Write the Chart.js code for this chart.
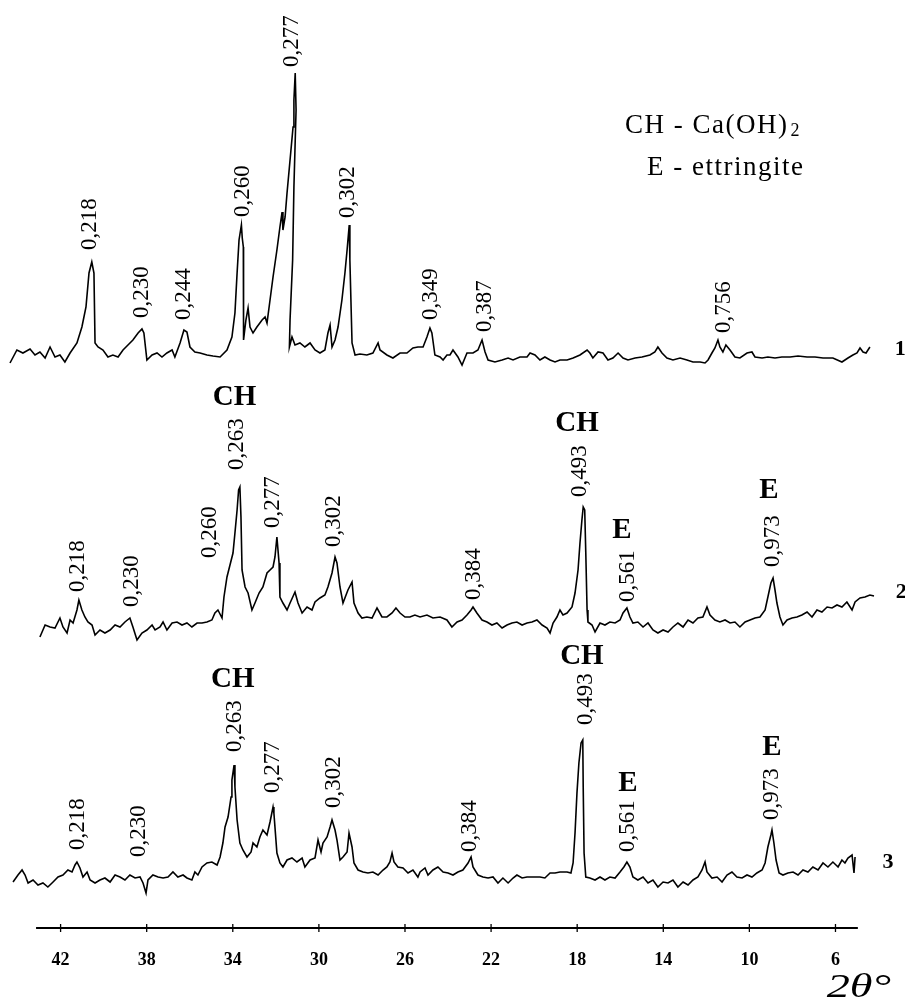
<!DOCTYPE html>
<html>
<head>
<meta charset="utf-8">
<title>XRD patterns 1-3</title>
<script src="https://cdn.jsdelivr.net/npm/chart.js@4/dist/chart.umd.min.js"></script>
<style>
  html, body { margin: 0; padding: 0; background: #fff; }
  #wrap { width: 905px; height: 1005px; position: relative; }
</style>
</head>
<body>
<div id="wrap"><canvas id="xrd"></canvas></div>
<script>
// bottom axis, degrees 2-theta (drawn reversed: 42 on the left)
const tickValues = [42, 38, 34, 30, 26, 22, 18, 14, 10, 6];
const axisSpan = [43.14, 4.96];

// pattern 1
const theta1 = [44.35,44.03,43.75,43.42,43.19,42.96,42.72,42.49,42.26,42.03,
  41.80,41.56,41.24,41.01,40.82,40.68,40.55,40.45,40.40,40.26,
  40.03,39.80,39.57,39.33,39.10,38.87,38.64,38.40,38.22,38.13,
  37.99,37.75,37.52,37.29,37.06,36.82,36.69,36.45,36.27,36.13,
  35.99,35.76,35.52,35.20,34.92,34.59,34.27,34.04,33.90,33.80,
  33.71,33.60,33.56,33.51,33.50,33.39,33.29,33.20,33.06,32.88,
  32.64,32.50,32.41,32.27,32.13,31.95,31.81,31.71,31.67,31.57,
  31.48,31.34,31.20,31.16,31.10,31.06,31.16,31.22,31.34,31.37,
  31.25,31.11,30.88,30.65,30.41,30.18,29.95,29.72,29.58,29.48,
  29.39,29.25,29.11,28.93,28.79,28.69,28.59,28.56,28.46,28.32,
  28.09,27.77,27.49,27.25,27.16,26.84,26.56,26.23,25.91,25.63,
  25.40,25.16,24.98,24.84,24.75,24.61,24.37,24.23,24.05,23.91,
  23.77,23.54,23.35,23.12,22.84,22.61,22.42,22.28,22.14,21.82,
  21.49,21.21,20.98,20.66,20.33,20.19,19.96,19.73,19.50,19.26,
  19.03,18.80,18.47,18.19,17.87,17.54,17.41,17.27,17.03,16.80,
  16.57,16.34,16.10,15.87,15.64,15.31,14.99,14.62,14.39,14.25,
  14.06,13.83,13.55,13.22,12.90,12.62,12.29,12.06,11.92,11.74,
  11.60,11.46,11.37,11.23,11.09,10.90,10.67,10.44,10.11,9.88,
  9.74,9.41,9.14,8.81,8.49,8.11,7.74,7.32,6.95,6.58,
  6.12,5.70,5.42,5.19,5.00,4.86,4.72,4.58,4.40];
const counts1 = [-8,5,2,6,0,3,-3,8,-2,0,
  -7,2,12,28,48,82,93,82,12,8,
  5,-2,0,-2,5,10,15,22,26,22,
  -5,0,2,-2,2,5,-2,12,25,23,
  8,3,2,0,-1,-2,5,18,42,82,
  115,130,117,108,15,35,47,28,22,28,
  35,38,32,55,78,105,128,143,125,138,
  162,195,228,255,282,245,168,95,35,8,
  18,10,12,8,12,5,2,5,22,30,
  8,15,28,55,82,105,130,95,12,0,
  1,0,2,12,5,0,-3,2,2,7,
  8,8,18,27,22,0,-2,-5,0,0,
  5,-2,-10,2,2,5,15,3,-5,-7,
  -5,-3,-5,-2,-2,2,0,-5,-2,-5,
  -7,-5,-5,-3,0,5,2,-3,3,2,
  -5,-3,2,-3,-5,-3,-2,0,3,8,
  2,-3,-5,-3,-5,-7,-7,-8,-5,2,
  7,15,8,3,10,5,-2,-3,2,3,
  -2,-3,-2,-3,-2,-2,-1,-2,-2,-3,
  -3,-7,-3,0,2,7,3,2,8];

// pattern 2
const theta2 = [42.96,42.72,42.49,42.26,42.03,41.89,41.70,41.56,41.42,41.24,
  41.15,41.01,40.87,40.73,40.54,40.40,40.17,39.94,39.70,39.47,
  39.24,39.01,38.78,38.64,38.45,38.22,37.99,37.75,37.61,37.38,
  37.24,37.06,36.82,36.59,36.36,36.13,35.90,35.66,35.43,35.20,
  34.97,34.83,34.69,34.50,34.41,34.27,34.13,33.99,33.90,33.80,
  33.73,33.67,33.62,33.57,33.43,33.29,33.11,32.97,32.78,32.60,
  32.41,32.27,32.13,32.04,31.95,31.85,31.81,31.67,31.48,31.34,
  31.11,30.97,30.78,30.55,30.32,30.18,29.95,29.72,29.58,29.39,
  29.25,29.16,29.02,28.88,28.65,28.46,28.37,28.18,28.00,27.77,
  27.53,27.30,27.07,26.84,26.60,26.42,26.23,26.00,25.77,25.54,
  25.30,24.98,24.70,24.37,24.05,23.82,23.58,23.35,23.12,22.93,
  22.84,22.66,22.42,22.19,21.96,21.73,21.49,21.26,21.03,20.80,
  20.56,20.33,20.10,19.87,19.63,19.40,19.26,19.12,18.94,18.80,
  18.66,18.47,18.24,18.10,17.96,17.87,17.78,17.72,17.65,17.60,
  17.54,17.50,17.31,17.17,16.94,16.71,16.48,16.24,16.01,15.87,
  15.69,15.55,15.41,15.18,14.94,14.71,14.48,14.25,14.01,13.78,
  13.55,13.32,13.08,12.85,12.62,12.39,12.16,11.97,11.83,11.60,
  11.37,11.13,10.90,10.67,10.44,10.20,9.97,9.74,9.51,9.27,
  9.14,9.00,8.90,8.81,8.72,8.58,8.44,8.25,8.02,7.79,
  7.56,7.32,7.09,6.86,6.63,6.39,6.16,5.93,5.70,5.47,
  5.23,5.09,4.86,4.63,4.40,4.21];
const counts2 = [-17,-5,-7,-8,2,-7,-13,0,-3,10,
  20,10,3,-2,-5,-15,-10,-13,-10,-5,
  -7,-2,2,-7,-20,-13,-10,-5,-10,-7,
  -2,-10,-3,-2,-5,-3,-7,-3,-3,-2,
  0,7,10,2,23,43,55,67,87,110,
  130,133,103,50,33,27,10,17,27,33,
  47,50,53,63,83,57,23,17,10,17,
  28,17,7,13,10,18,22,25,33,47,
  63,57,33,17,30,38,17,7,2,3,
  2,12,3,3,7,12,7,3,3,5,
  3,5,2,3,0,-7,-2,0,5,10,
  13,7,0,-2,-5,-3,-8,-5,-3,-2,
  -5,-3,-2,0,-5,-8,-13,-3,3,10,
  5,7,13,27,50,77,100,113,110,67,
  10,-2,-5,-12,-3,-5,-2,-3,0,7,
  12,3,-3,-2,-7,-3,-10,-13,-10,-12,
  -7,-3,-7,0,-3,2,3,13,5,0,
  -2,0,-3,-2,-7,-2,0,2,3,10,
  23,37,42,30,17,3,-5,0,2,3,
  5,8,3,10,8,13,12,15,13,18,
  10,18,22,23,25,24];

// pattern 3
const theta3 = [44.21,43.98,43.79,43.65,43.51,43.28,43.05,42.82,42.59,42.35,
  42.12,41.89,41.66,41.47,41.33,41.24,41.10,40.96,40.77,40.63,
  40.40,40.17,39.94,39.70,39.47,39.24,39.01,38.78,38.54,38.31,
  38.17,38.03,37.94,37.71,37.47,37.24,37.01,36.78,36.55,36.31,
  36.13,35.90,35.76,35.62,35.43,35.20,34.97,34.73,34.59,34.46,
  34.36,34.22,34.08,34.04,33.94,33.90,33.80,33.67,33.53,33.34,
  33.15,33.06,32.88,32.74,32.60,32.41,32.27,32.13,32.09,31.95,
  31.81,31.67,31.48,31.25,31.02,30.78,30.65,30.41,30.18,30.04,
  29.90,29.81,29.62,29.48,29.39,29.25,29.16,29.02,28.88,28.69,
  28.60,28.46,28.37,28.18,27.95,27.72,27.49,27.25,27.02,26.84,
  26.70,26.60,26.51,26.33,26.09,25.86,25.63,25.40,25.30,25.07,
  24.93,24.70,24.47,24.23,24.00,23.77,23.54,23.31,23.07,22.93,
  22.84,22.61,22.38,22.14,21.91,21.68,21.45,21.21,20.98,20.80,
  20.56,20.33,20.05,19.73,19.50,19.26,19.03,18.80,18.47,18.29,
  18.19,18.10,18.01,17.92,17.82,17.74,17.72,17.68,17.60,17.41,
  17.17,16.94,16.71,16.48,16.24,16.01,15.83,15.69,15.55,15.41,
  15.18,14.94,14.71,14.48,14.25,14.01,13.78,13.55,13.32,13.08,
  12.85,12.62,12.39,12.20,12.06,11.97,11.74,11.50,11.27,11.04,
  10.81,10.58,10.34,10.11,9.88,9.65,9.41,9.27,9.14,9.00,
  8.95,8.86,8.76,8.62,8.44,8.21,7.97,7.74,7.51,7.28,
  7.05,6.81,6.58,6.35,6.12,5.88,5.70,5.56,5.42,5.23,
  5.14,5.09];
const counts3 = [-7,0,5,0,-8,-5,-10,-8,-12,-7,
  -2,0,5,3,10,13,7,-2,3,-5,
  -8,-5,-3,-7,0,-2,-5,0,-3,-2,
  -8,-18,-5,0,-2,-3,-2,3,-2,0,
  -3,-5,3,0,8,12,13,10,18,32,
  48,58,78,95,110,88,55,32,25,18,
  23,32,28,38,45,40,53,68,62,22,
  12,8,15,17,13,17,8,15,17,35,
  23,32,38,48,55,45,35,15,18,23,
  42,28,12,5,3,2,3,0,5,8,
  13,22,13,8,7,2,5,-2,3,7,
  0,5,8,3,2,0,3,5,12,18,
  8,0,-2,-3,-2,-8,-3,-8,-3,0,
  -3,-2,-2,-2,-3,2,2,3,3,2,
  12,42,82,112,132,135,88,22,-2,-3,
  -5,-2,-5,-2,-3,3,8,13,8,-2,
  -5,-2,-8,-5,-12,-7,-8,-5,-12,-7,
  -10,-5,-2,5,13,3,-3,-2,-7,0,
  3,-2,-3,0,-2,2,5,12,28,40,
  45,32,15,2,0,2,3,0,5,3,
  8,5,12,8,13,8,15,12,17,20,
  2,18];

// vertical stacking of the three patterns
const traceShift = [573, 308, 53];

// d-spacing labels (nm), placed above the peaks
const peakText1 = ['0,218','0,230','0,244','0,260','0,277','0,302','0,349','0,387','0,756'];
const peakTheta1 = [40.63,38.22,36.27,33.53,31.25,28.65,24.79,22.28,11.18];
const peakLift1 = [105,37,35,138,288,137,35,23,22];

const peakText2 = ['0,218','0,230','0,260','0,263','0,277','0,302','0,384','0,493','0,561','0,973'];
const peakTheta2 = [41.19,38.68,35.06,33.80,32.13,29.30,22.79,17.87,15.64,8.90];
const peakLift2 = [28,13,62,150,92,73,20,123,18,53];

const peakText3 = ['0,218','0,230','0,263','0,277','0,302','0,384','0,493','0,561','0,973'];
const peakTheta3 = [41.19,38.36,33.90,32.13,29.30,22.98,17.59,15.64,8.95];
const peakLift3 = [25,18,123,82,67,23,150,23,55];

// phase marks: CH = Ca(OH)2, E = ettringite
const phaseText2 = ['CH','CH','E','E'];
const phaseTheta2 = [33.92,18.01,15.92,9.09];
const phaseLift2 = [222,196,89,129];

const phaseText3 = ['CH','CH','E','E'];
const phaseTheta3 = [34.00,17.78,15.64,8.95];
const phaseLift3 = [195,218,91,127];

// pattern numbers at the right end
const traceNames = ['1','2','3'];
const nameTheta = [2.99,2.95,3.56];
const nameLift = [6,28,13];

const peakSets = [
  { text: peakText1, theta: peakTheta1, lift: peakLift1, shift: traceShift[0] },
  { text: peakText2, theta: peakTheta2, lift: peakLift2, shift: traceShift[1] },
  { text: peakText3, theta: peakTheta3, lift: peakLift3, shift: traceShift[2] }
];
const phaseSets = [
  { text: phaseText2, theta: phaseTheta2, lift: phaseLift2, shift: traceShift[1] },
  { text: phaseText3, theta: phaseTheta3, lift: phaseLift3, shift: traceShift[2] }
];

const annotate = {
  id: 'annotate',
  afterDraw(chart) {
    const ctx = chart.ctx;
    const x = chart.scales.x;
    const y = chart.scales.y;
    const base = y.getPixelForValue(0);

    ctx.save();
    ctx.strokeStyle = '#000';
    ctx.fillStyle = '#000';

    // axis line with tick marks crossing it
    ctx.lineWidth = 1.8;
    ctx.beginPath();
    ctx.moveTo(x.getPixelForValue(axisSpan[0]), base);
    ctx.lineTo(x.getPixelForValue(axisSpan[1]), base);
    ctx.stroke();
    ctx.lineWidth = 1.3;
    tickValues.forEach(v => {
      const px = x.getPixelForValue(v);
      ctx.beginPath();
      ctx.moveTo(px, base - 4);
      ctx.lineTo(px, base + 4);
      ctx.stroke();
    });

    // rotated d-spacing labels
    ctx.font = '23px "Liberation Serif"';
    ctx.textAlign = 'left';
    ctx.textBaseline = 'middle';
    peakSets.forEach(set => {
      set.text.forEach((t, i) => {
        ctx.save();
        ctx.translate(x.getPixelForValue(set.theta[i]), y.getPixelForValue(set.lift[i] + set.shift));
        ctx.rotate(-Math.PI / 2);
        ctx.fillText(t, 0, 0);
        ctx.restore();
      });
    });

    // phase marks
    ctx.font = 'bold 29px "Liberation Serif"';
    ctx.textAlign = 'center';
    phaseSets.forEach(set => {
      set.text.forEach((t, i) => {
        ctx.fillText(t, x.getPixelForValue(set.theta[i]), y.getPixelForValue(set.lift[i] + set.shift));
      });
    });

    // pattern numbers
    ctx.font = 'bold 22px "Liberation Serif"';
    traceNames.forEach((t, i) => {
      ctx.fillText(t, x.getPixelForValue(nameTheta[i]), y.getPixelForValue(nameLift[i] + traceShift[i]));
    });

    // key
    ctx.textAlign = 'left';
    ctx.textBaseline = 'alphabetic';
    ctx.letterSpacing = '1.5px';
    ctx.font = '27px "Liberation Serif"';
    const kx1 = x.getPixelForValue(15.78), ky1 = y.getPixelForValue(795);
    ctx.fillText('CH - Ca(OH)', kx1, ky1);
    const w1 = ctx.measureText('CH - Ca(OH)').width;
    ctx.font = '18px "Liberation Serif"';
    ctx.fillText('2', kx1 + w1 + 2, ky1 + 3);
    ctx.font = '27px "Liberation Serif"';
    ctx.fillText('E - ettringite', x.getPixelForValue(14.76), y.getPixelForValue(753));
    ctx.letterSpacing = '0px';

    // axis name, drawn a little wide like the original lettering
    ctx.save();
    ctx.translate(x.getPixelForValue(3.42), y.getPixelForValue(-69));
    ctx.scale(1.4, 1);
    ctx.textAlign = 'right';
    ctx.font = 'italic 33px "Liberation Serif"';
    ctx.fillText('2θ°', 0, 0);
    ctx.restore();

    ctx.restore();
  }
};

Chart.defaults.font.family = '"Liberation Serif"';
Chart.defaults.color = '#000';

const patterns = [[theta1, counts1], [theta2, counts2], [theta3, counts3]];
const datasets = patterns.map(([t, c], k) => ({
  label: 'Pattern ' + (k + 1),
  data: t.map((v, i) => ({ x: v, y: c[i] + traceShift[k] })),
  borderColor: '#000',
  borderWidth: 1.6,
  pointRadius: 0,
  tension: 0,
  fill: false
}));

new Chart(document.getElementById('xrd'), {
  type: 'line',
  data: { datasets: datasets },
  options: {
    responsive: true,
    maintainAspectRatio: false,
    animation: false,
    layout: { padding: 0 },
    plugins: {
      legend: { display: false },
      tooltip: { enabled: false }
    },
    scales: {
      x: {
        type: 'linear',
        reverse: true,
        min: 2.77,
        max: 44.815,
        afterBuildTicks: function(scale) {
          scale.ticks = tickValues.map(v => ({ value: v }));
        },
        afterFit: function(scale) {
          scale.height = 77;
        },
        grid: { display: false, drawTicks: false },
        border: { display: false },
        ticks: {
          autoSkip: false,
          maxRotation: 0,
          padding: 22,
          color: '#000',
          font: { size: 18, weight: 'bold' }
        }
      },
      y: {
        display: false,
        min: 0,
        max: 928
      }
    }
  },
  plugins: [annotate]
});
</script>
</body>
</html>
